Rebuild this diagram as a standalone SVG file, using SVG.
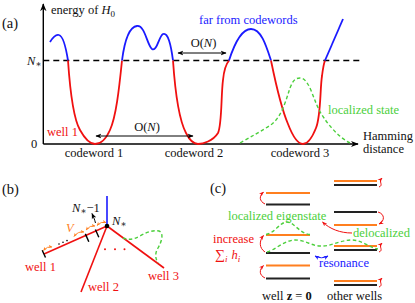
<svg xmlns="http://www.w3.org/2000/svg" width="415" height="303" viewBox="0 0 415 303" font-family="'Liberation Serif', 'Times New Roman', 'DejaVu Serif', serif">
<style>
text{font-family:'Liberation Serif','Times New Roman','DejaVu Serif',serif;font-size:12.5px;fill:#111}
.lab{font-size:14.5px}
.red{fill:#f01010}.blue{fill:#1a1aff}.green{fill:#4ccf3c}.orange{fill:#ff7f1f}
.it{font-style:italic}
.cr{fill:none;stroke:#f01010;stroke-width:1.8}
.cb{fill:none;stroke:#1a1aff;stroke-width:1.8}
.cg{fill:none;stroke:#4ccf3c;stroke-width:1.4;stroke-dasharray:3.5,2.5}
.ax{fill:none;stroke:#000;stroke-width:1.4}
.lvo{stroke:#ff7f1f;stroke-width:1.8}
.lvk{stroke:#222;stroke-width:1.8}
</style>
<defs>
<marker id="ahk" viewBox="0 0 10 10" refX="9" refY="5" markerWidth="8" markerHeight="8" markerUnits="userSpaceOnUse" orient="auto-start-reverse"><path d="M0,1 L10,5 L0,9 L3,5z" fill="#000"/></marker>
<marker id="ahs" viewBox="0 0 10 10" refX="9" refY="5" markerWidth="6" markerHeight="6" markerUnits="userSpaceOnUse" orient="auto-start-reverse"><path d="M0,1 L10,5 L0,9 L3,5z" fill="#000"/></marker>
<marker id="aho" viewBox="0 0 10 10" refX="9" refY="5" markerWidth="4" markerHeight="4" markerUnits="userSpaceOnUse" orient="auto-start-reverse"><path d="M0,1 L10,5 L0,9 L3,5z" fill="#ff7f1f"/></marker>
<marker id="ahr" viewBox="0 0 10 10" refX="9" refY="5" markerWidth="5" markerHeight="5" markerUnits="userSpaceOnUse" orient="auto-start-reverse"><path d="M0,1 L10,5 L0,9 L3,5z" fill="#f01010"/></marker>
<marker id="ahb" viewBox="0 0 10 10" refX="9" refY="5" markerWidth="5" markerHeight="5" markerUnits="userSpaceOnUse" orient="auto-start-reverse"><path d="M0,1 L10,5 L0,9 L3,5z" fill="#1a1aff"/></marker>
</defs>

<!-- Panel (a) -->
<g id="panel-a">
<text class="lab" x="2" y="28">(a)</text>
<line class="ax" x1="43.3" y1="144" x2="43.3" y2="4" marker-end="url(#ahk)"/>
<line class="ax" x1="43.3" y1="144" x2="358" y2="144" marker-end="url(#ahk)"/>
<text x="51" y="14">energy of <tspan class="it">H</tspan><tspan font-size="9" dy="2.5">0</tspan></text>
<text x="27" y="65"><tspan class="it">N</tspan><tspan font-size="9" dy="2">∗</tspan></text>
<text x="31" y="148">0</text>
<line x1="43.3" y1="60.5" x2="360" y2="60.5" stroke="#000" stroke-width="1.4" stroke-dasharray="6,4"/>
</g>

<g id="curve-a">
<path class="cb" d="M50,42 C53,37 56,34 59,35 C63,36 66,48 68,60.5"/>
<path class="cr" d="M68,60.5 C70,90 73,118 80,130 C85,139 90,144 95,144 C101,144 106,139 110,130 C116,117 119,90 122,60.5"/>
<path class="cb" d="M122,60.5 C124,45 128,27 137,26 C145,25 147,45 152,49 C157,52 159,36 163,34 C168,32 171,45 173,60.5"/>
<path class="cr" d="M173,60.5 C175,90 178,118 186,133 C190,141 194,144 198,144 C203,144 213,141 218,133 C222,125 221,95 223,80 C224,70 226,64 229,60.5"/>
<path class="cb" d="M229,60.5 C234,45 241,29 251,29 C261,29 266,45 271,60.5"/>
<path class="cr" d="M271,60.5 C275,80 280,105 288,124 C293,137 298,144 303,144 C308,144 312,138 316,128 C321,116 320,88 322,76 C323,68 324,63 325,60.5"/>
<path class="cb" d="M325,60.5 L343,19"/>
</g>

<g id="localized-state-a">
<path class="cg" d="M240,143 C252,136 262,131 272,124 C282,116 286,100 290,88 C293,80 296,78 300,78 C304,78 307,82 310,88 C315,100 318,110 324,118 C330,127 340,138 350,143"/>
<text class="green" x="328" y="114">localized state</text>
</g>

<g id="labels-a">
<text class="blue" x="199" y="24">far from codewords</text>
<text class="red" x="47" y="136">well 1</text>
<text x="94" y="157" text-anchor="middle">codeword 1</text>
<text x="194" y="157" text-anchor="middle">codeword 2</text>
<text x="300" y="157" text-anchor="middle">codeword 3</text>
<text x="363" y="140" font-size="12">Hamming</text>
<text x="363" y="153" font-size="12">distance</text>
</g>

<g id="connectors-a">
<line x1="178" y1="53" x2="226" y2="53" stroke="#000" stroke-width="1" marker-start="url(#ahs)" marker-end="url(#ahs)"/>
<text x="203.5" y="46.5" text-anchor="middle">O(<tspan class="it">N</tspan>)</text>
<line x1="96" y1="136" x2="193" y2="136" stroke="#000" stroke-width="1" marker-start="url(#ahs)" marker-end="url(#ahs)"/>
<text x="147" y="131" text-anchor="middle">O(<tspan class="it">N</tspan>)</text>
</g>

<!-- Panel (b) -->
<g id="panel-b">
<text class="lab" x="2" y="194">(b)</text>
<line x1="107" y1="226" x2="107" y2="196" stroke="#1a1aff" stroke-width="1.6"/>
<line x1="107" y1="226" x2="44" y2="254" stroke="#f01010" stroke-width="1.6"/>
<line x1="107" y1="226" x2="81" y2="292" stroke="#f01010" stroke-width="1.6"/>
<line x1="107" y1="226" x2="164" y2="268" stroke="#f01010" stroke-width="1.6"/>
<circle cx="107" cy="226" r="2.3" fill="#000"/>
<g stroke="#000" stroke-width="1.4">
<line x1="42.2" y1="250.2" x2="45.5" y2="257.5"/>
<line x1="85.3" y1="233.9" x2="88.8" y2="241.8"/>
<line x1="95.4" y1="229.5" x2="98.8" y2="237.2"/>
</g>
<g fill="#000"><circle cx="59" cy="244" r="0.8"/><circle cx="63" cy="242.3" r="0.8"/><circle cx="67" cy="240.6" r="0.8"/></g>
<g fill="none" stroke="#ff7f1f" stroke-width="0.9">
<path d="M43.5,250.5 Q47,246 52,247" marker-start="url(#aho)" marker-end="url(#aho)"/>
<path d="M74,236.5 Q78,231 84,232" marker-start="url(#aho)" marker-end="url(#aho)"/>
<path d="M86,230 Q90,225 95,226" marker-start="url(#aho)" marker-end="url(#aho)"/>
<path d="M97,225.5 Q101,221 106,222.5" marker-start="url(#aho)" marker-end="url(#aho)"/>
</g>
<text class="orange it" x="66" y="232">V</text>
<path d="M95.5,223 C94.5,219 93.5,217 92,213.5" fill="none" stroke="#000" stroke-width="1" marker-end="url(#ahs)"/>
<text x="72" y="212"><tspan class="it">N</tspan><tspan font-size="9" dy="2">∗</tspan><tspan dy="-2">−1</tspan></text>
<text x="112" y="225"><tspan class="it">N</tspan><tspan font-size="9" dy="2">∗</tspan></text>
<g fill="#f01010"><circle cx="105" cy="249.3" r="1"/><circle cx="115" cy="249.3" r="1"/><circle cx="124.5" cy="249.3" r="1"/></g>
<path class="cg" d="M123,238 C128,240 133,240 140,236 C147,232 153,230 159,231 C164,233 162,241 158,248 C155,253 155,258 158,263"/>
<text class="red" x="25" y="271">well 1</text>
<text class="red" x="88" y="291">well 2</text>
<text class="red" x="148" y="280">well 3</text>
</g>

<!-- Panel (c) -->
<g id="panel-c">
<text class="lab" x="210" y="193">(c)</text>
<line class="lvo" x1="266" y1="193" x2="310" y2="193"/>
<line class="lvk" x1="266" y1="204.5" x2="310" y2="204.5"/>
<line class="lvo" x1="266" y1="235" x2="310" y2="235"/>
<line class="lvk" x1="266" y1="253" x2="310" y2="253"/>
<line class="lvo" x1="266" y1="265.5" x2="310" y2="265.5"/>
<line class="lvk" x1="266" y1="278.5" x2="310" y2="278.5"/>
<line class="lvo" x1="334" y1="181" x2="377" y2="181"/>
<line class="lvk" x1="334" y1="185" x2="377" y2="185"/>
<line class="lvk" x1="334" y1="212" x2="377" y2="212"/>
<line class="lvo" x1="334" y1="225" x2="377" y2="225"/>
<line class="lvo" x1="334" y1="246" x2="377" y2="246"/>
<line class="lvk" x1="334" y1="250" x2="377" y2="250"/>
<line class="lvo" x1="334" y1="281" x2="377" y2="281"/>
<line class="lvk" x1="334" y1="285" x2="377" y2="285"/>
<path class="cg" d="M266,234.5 C275,233 280,222 287,222 C294,222 300,234 310,234.5"/>
<path class="cg" d="M267,252 C275,250 285,240 295,240 C305,240 312,246 320,246 C330,247 340,240 352,240 C362,240 370,248 378,249"/>
<text class="green" x="228" y="220">localized eigenstate</text>
<text class="green" x="353" y="237">delocalized</text>
<text class="red" x="213" y="243">increase</text>
<text class="red" x="215" y="259" font-size="13.5"><tspan font-size="14">∑</tspan><tspan class="it" font-size="9" dy="2.5">i</tspan><tspan class="it" dy="-2.5" dx="4">h</tspan><tspan class="it" font-size="9" dy="2.5">i</tspan></text>
<text class="blue" x="319" y="267">resonance</text>
<path d="M315,256 Q321.5,259.5 328,256" fill="none" stroke="#1a1aff" stroke-width="1" marker-start="url(#ahb)" marker-end="url(#ahb)"/>
<text x="262" y="300">well <tspan font-weight="bold">z</tspan> = <tspan font-weight="bold">0</tspan></text>
<text x="327" y="300">other wells</text>
<g fill="none" stroke="#f01010" stroke-width="1">
<path d="M265,204 C259,201 259,196 263.5,192" marker-end="url(#ahr)"/>
<path d="M265,252 C259,248 259,241 263.5,235.5" marker-end="url(#ahr)"/>
<path d="M265,278 C259,275 259,270 263.5,265.5" marker-end="url(#ahr)"/>
<path d="M352,233 C340,233 330,229 322.5,222" marker-end="url(#ahr)"/>
<path d="M379,187 C384,185 378,182 382,178" marker-end="url(#ahr)"/>
<path d="M378,212 C385,214 385,221 379,224" marker-end="url(#ahr)"/>
<path d="M379,252 C384,250 378,247 382,243" marker-end="url(#ahr)"/>
<path d="M379,287 C384,285 378,282 382,278" marker-end="url(#ahr)"/>
</g>
</g>
</svg>
